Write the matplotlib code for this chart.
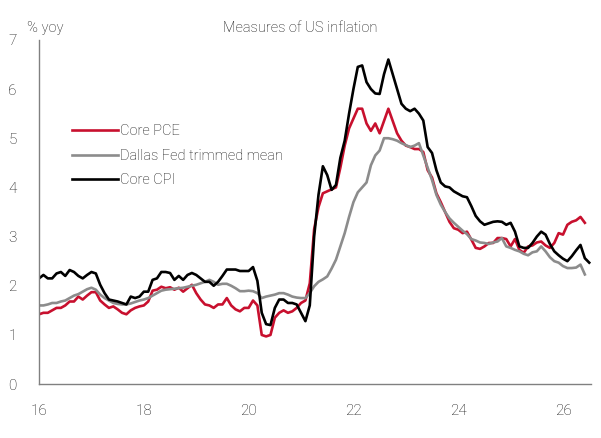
import numpy as np
import matplotlib
matplotlib.use("Agg")
import matplotlib.pyplot as plt

plt.rcParams['font.family'] = ['Roboto', 'DejaVu Sans']
plt.rcParams['font.weight'] = 'light'

# monthly % yoy, Jan 2016 onwards
core_pce = [
    1.42, 1.45, 1.45, 1.50, 1.55, 1.55, 1.60, 1.68, 1.68, 1.78, 1.72, 1.80,   # 2016
    1.87, 1.87, 1.70, 1.62, 1.55, 1.58, 1.52, 1.45, 1.42, 1.50, 1.55, 1.58,   # 2017
    1.60, 1.68, 1.90, 1.92, 1.98, 1.95, 1.97, 1.92, 1.96, 1.88, 1.95, 2.02,   # 2018
    1.85, 1.72, 1.62, 1.60, 1.55, 1.62, 1.62, 1.75, 1.60, 1.52, 1.48, 1.55,   # 2019
    1.55, 1.70, 1.60, 1.00, 0.97, 1.00, 1.35, 1.45, 1.50, 1.45, 1.48, 1.55,   # 2020
    1.65, 1.70, 2.05, 3.15, 3.60, 3.88, 3.92, 3.96, 4.00, 4.40, 4.85, 5.20,   # 2021
    5.40, 5.60, 5.60, 5.30, 5.15, 5.30, 5.10, 5.35, 5.60, 5.35, 5.10, 4.95,   # 2022
    4.85, 4.82, 4.78, 4.78, 4.72, 4.35, 4.20, 3.88, 3.70, 3.50, 3.30, 3.17,   # 2023
    3.14, 3.07, 3.10, 2.94, 2.77, 2.75, 2.80, 2.87, 2.87, 2.97, 2.97, 2.95,   # 2024
    2.80, 2.95, 2.73, 2.67, 2.80, 2.82, 2.88, 2.90, 2.82, 2.77, 2.87, 3.07,   # 2025
    3.04, 3.24, 3.30, 3.33, 3.40, 3.28,                                       # 2026
]

trimmed_mean = [
    1.60, 1.60, 1.62, 1.65, 1.65, 1.68, 1.70, 1.75, 1.80, 1.83, 1.88, 1.93,
    1.96, 1.92, 1.82, 1.75, 1.70, 1.65, 1.63, 1.62, 1.62, 1.64, 1.67, 1.70,
    1.72, 1.75, 1.80, 1.85, 1.90, 1.92, 1.93, 1.94, 1.95, 1.96, 1.98, 2.00,
    2.02, 2.05, 2.08, 2.12, 2.08, 2.02, 2.04, 2.04, 2.00, 1.95, 1.89, 1.89,
    1.90, 1.89, 1.85, 1.75, 1.78, 1.80, 1.82, 1.85, 1.85, 1.82, 1.78, 1.76,
    1.75, 1.75, 1.85, 1.99, 2.08, 2.13, 2.19, 2.35, 2.53, 2.80, 3.07, 3.40,
    3.70, 3.90, 4.00, 4.10, 4.45, 4.65, 4.75, 5.00, 5.00, 4.98, 4.95, 4.90,
    4.86, 4.82, 4.85, 4.90, 4.65, 4.40, 4.15, 3.85, 3.65, 3.50, 3.37, 3.28,
    3.20, 3.12, 3.05, 2.95, 2.92, 2.88, 2.87, 2.85, 2.88, 2.90, 2.97, 2.80,
    2.77, 2.73, 2.70, 2.65, 2.62, 2.68, 2.70, 2.80, 2.70, 2.58, 2.50, 2.47,
    2.40, 2.36, 2.36, 2.37, 2.43, 2.23,
]

core_cpi = [
    2.15, 2.22, 2.15, 2.15, 2.25, 2.28, 2.20, 2.32, 2.28, 2.20, 2.15, 2.22,
    2.28, 2.25, 2.02, 1.85, 1.72, 1.70, 1.68, 1.65, 1.62, 1.78, 1.75, 1.78,
    1.88, 1.88, 2.12, 2.15, 2.28, 2.28, 2.26, 2.12, 2.20, 2.12, 2.22, 2.26,
    2.22, 2.15, 2.08, 2.08, 2.00, 2.08, 2.20, 2.33, 2.33, 2.33, 2.30, 2.30,
    2.30, 2.38, 2.10, 1.45, 1.22, 1.20, 1.55, 1.72, 1.72, 1.65, 1.65, 1.62,
    1.45, 1.28, 1.60, 3.00, 3.85, 4.43, 4.25, 3.95, 4.05, 4.60, 4.95, 5.50,
    6.00, 6.45, 6.48, 6.14, 6.00, 5.91, 5.90, 6.30, 6.60, 6.30, 6.00, 5.70,
    5.60, 5.55, 5.60, 5.50, 5.36, 4.82, 4.70, 4.35, 4.10, 4.02, 4.00, 3.92,
    3.87, 3.82, 3.80, 3.62, 3.42, 3.31, 3.24, 3.27, 3.30, 3.31, 3.30, 3.24,
    3.28, 3.10, 2.80, 2.77, 2.77, 2.87, 3.00, 3.10, 3.04, 2.85, 2.70, 2.62,
    2.55, 2.50, 2.60, 2.72, 2.83, 2.56, 2.47,
]

series_names = ['Core PCE', 'Dallas Fed trimmed mean', 'Core CPI']
x_ticks = [16, 18, 20, 22, 24, 26]

def months(n):
    return 16 + np.arange(n) / 12.0

fig = plt.figure(figsize=(6.01, 4.38), dpi=100)
ax = fig.add_axes([0.065, 0.123, 0.918, 0.786])

ax.plot(months(len(core_pce)), core_pce, color='#C8102E', lw=1.9, label=series_names[0])
ax.plot(months(len(trimmed_mean)), trimmed_mean, color='#8C8C8C', lw=1.9, label=series_names[1])
ax.plot(months(len(core_cpi)), core_cpi, color='#000000', lw=1.9, label=series_names[2])

txt = '#111111'
ax.set_xlim(16, 26.53)
ax.set_ylim(0, 7)
ax.set_xticks(x_ticks)
ax.set_xticklabels([str(t) for t in x_ticks])
ax.set_yticks(range(0, 8))
ax.tick_params(length=0, labelsize=11, colors=txt)
ax.tick_params(axis='x', pad=14)
ax.tick_params(axis='y', pad=16)
for s in ['top', 'right']:
    ax.spines[s].set_visible(False)
for s in ['left', 'bottom']:
    ax.spines[s].set_color('#808080')
    ax.spines[s].set_linewidth(1.0)

fig.text(0.5, 0.937, 'Measures of US inflation', ha='center', va='center', fontsize=10.5, color=txt)
fig.text(0.045, 0.937, '% yoy', ha='left', va='center', fontsize=10.5, color=txt)

leg = ax.legend(loc='upper left', bbox_to_anchor=(0.035, 0.793), frameon=False,
                fontsize=10.5, handlelength=3.2, handletextpad=0.15, labelspacing=0.72)
for t in leg.get_texts():
    t.set_color(txt)

fig.savefig('out.png', dpi=100)
